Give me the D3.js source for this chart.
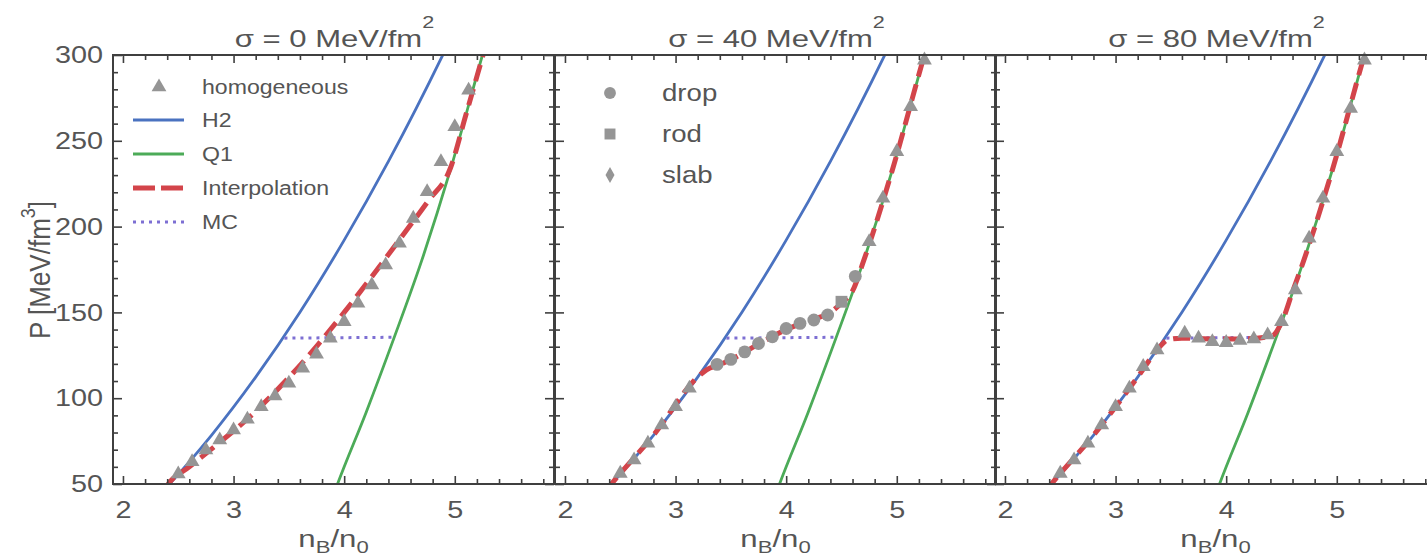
<!DOCTYPE html>
<html>
<head>
<meta charset="utf-8">
<script src="https://cdn.jsdelivr.net/npm/d3@7"></script>
<style>
  body { margin: 0; background: #fff; }
  text { font-family: "Liberation Sans", Arial, sans-serif; fill: #555; }
</style>
</head>
<body>
<svg id="chart" width="1427" height="555"></svg>
<script>
// ---- data ----
const sigmaValues = [0, 40, 80];
const xTickValues = [2, 3, 4, 5];
const yTickValues = [50, 100, 150, 200, 250, 300];

// hadronic EOS (H2), same in every panel
const h2X = [2.35, 2.42, 2.8, 3.2, 3.6, 4.0, 4.4, 4.89, 4.95];
const h2P = [45.2, 50, 78.4, 112.3, 150.1, 192.1, 238, 299.8, 307.8];

// quark EOS (Q1)
const q1X = [3.9, 3.94, 4.2, 4.45, 4.7, 4.96, 5.25, 5.32];
const q1P = [43, 50, 92, 135, 180, 233, 300, 316];

// Maxwell construction
const mcX = [3.46, 4.45];
const mcP = [135, 135.5];

// interpolation curves, one per sigma
const interpX0 = [2.37, 2.41, 2.6, 2.85, 3.11, 3.47, 3.76, 4.0, 4.24, 4.53, 4.76, 4.96, 5.1, 5.26, 5.3];
const interpP0 = [46, 50, 60, 73, 87, 110, 131, 150, 170, 195, 215, 234, 265, 301, 310];
const interpX40 = [2.37, 2.42, 2.8, 3.2, 3.28, 3.4, 3.5, 3.75, 4.0, 4.25, 4.4, 4.5, 4.6, 4.7, 4.96, 5.25, 5.3];
const interpP40 = [46, 50, 78.4, 112.3, 116.5, 119.5, 122.5, 131.5, 140, 146, 150, 155.5, 162.5, 180, 233, 300, 311];
const interpX80 = [2.37, 2.42, 2.8, 3.2, 3.4, 3.47, 3.6, 3.9, 4.2, 4.42, 4.5, 4.6, 4.7, 4.96, 5.25, 5.3];
const interpP80 = [46, 50, 78.4, 112.3, 130, 134, 135, 134.5, 134.6, 136.5, 144, 162, 180, 233, 300, 311];

// homogeneous phase points (triangles)
const homX0 = [2.5, 2.625, 2.75, 2.875, 3.0, 3.125, 3.25, 3.375, 3.5, 3.625, 3.75, 3.875, 4.0, 4.125, 4.25, 4.375, 4.5, 4.625, 4.75, 4.875, 5.0, 5.125];
const homP0 = [55.8, 63.0, 69.8, 75.6, 81.5, 87.7, 95.0, 101.3, 108.7, 117.4, 125.6, 134.9, 144.6, 155.3, 166.0, 177.6, 190.3, 204.8, 220.3, 237.8, 258.2, 279.5];
const homX40 = [2.5, 2.625, 2.75, 2.875, 3.0, 3.125, 4.75, 4.875, 5.0, 5.125, 5.25];
const homP40 = [56.2, 64.0, 73.7, 84.4, 95.0, 105.8, 191.2, 216.5, 243.7, 269.9, 297];
const homX80 = [2.5, 2.625, 2.75, 2.875, 3.0, 3.125, 3.25, 3.375, 3.625, 3.75, 3.875, 4.0, 4.125, 4.25, 4.375, 4.5, 4.625, 4.75, 4.875, 5.0, 5.125, 5.25];
const homP80 = [56.2, 64.0, 73.7, 84.4, 95.0, 105.8, 118.4, 128.1, 137.8, 134.9, 132.9, 132.4, 133.6, 134.5, 136.8, 144.6, 163.1, 193.2, 216.5, 243.7, 268.9, 297];

// pasta structures, sigma = 40
const dropX40 = [3.375, 3.5, 3.625, 3.75, 3.875, 4.0, 4.125, 4.25, 4.375, 4.625];
const dropP40 = [119.7, 122.6, 127.0, 131.9, 135.8, 140.6, 143.6, 145.6, 148.5, 171];
const rodX40 = [4.5];
const rodP40 = [156.2];

const legend1Labels = ["homogeneous", "H2", "Q1", "Interpolation", "MC"];
const legend2Labels = ["drop", "rod", "slab"];

// ---- layout ----
const panelLeft = [113, 555, 995];
const panelW = 441, plotTop = 55, plotBottom = 484;
const xDomain = [1.91, 5.897];
const SX = 1.2; // the figure's lettering is wide, stretch it a bit

const colH2 = "#4a72c0", colQ1 = "#4cab58", colInterp = "#d3444a", colMC = "#7d6fd3";
const colMarker = "#959595", colFrame = "#3f3f3f";

const svg = d3.select("#chart");

const interpX = [interpX0, interpX40, interpX80];
const interpP = [interpP0, interpP40, interpP80];
const homX = [homX0, homX40, homX80];
const homP = [homP0, homP40, homP80];

const zip = (xs, ys) => xs.map((v, i) => [v, ys[i]]);

function diamondPath(w, h) {
  return `M0,${-h / 2}L${w / 2},0L0,${h / 2}L${-w / 2},0Z`;
}

// text placed at (x,y) and stretched horizontally by sx
function wideText(parent, x, y, sx) {
  return parent.append("g").attr("transform", `translate(${x},${y}) scale(${sx},1)`).append("text");
}

sigmaValues.forEach((sigma, i) => {
  const x = d3.scaleLinear().domain(xDomain).range([0, panelW]);
  const y = d3.scaleLinear().domain([50, 300]).range([plotBottom, plotTop]);
  const g = svg.append("g").attr("transform", `translate(${panelLeft[i]},0)`);

  const clipId = "clip" + i;
  svg.append("clipPath").attr("id", clipId)
    .append("rect").attr("x", 0).attr("y", plotTop).attr("width", panelW).attr("height", plotBottom - plotTop);

  const line = d3.line().x(d => x(d[0])).y(d => y(d[1])).curve(d3.curveMonotoneX);
  const curves = g.append("g").attr("clip-path", `url(#${clipId})`);

  curves.append("path").datum(zip(h2X, h2P))
    .attr("d", line).attr("fill", "none").attr("stroke", colH2).attr("stroke-width", 2.8);
  curves.append("path").datum(zip(q1X, q1P))
    .attr("d", line).attr("fill", "none").attr("stroke", colQ1).attr("stroke-width", 2.8);
  curves.append("path").datum(zip(mcX, mcP))
    .attr("d", line).attr("fill", "none").attr("stroke", colMC).attr("stroke-width", 3)
    .attr("stroke-dasharray", "3,5");
  curves.append("path").datum(zip(interpX[i], interpP[i]))
    .attr("d", line).attr("fill", "none").attr("stroke", colInterp).attr("stroke-width", 5)
    .attr("stroke-dasharray", "17,8");

  // markers
  const tri = d3.symbol().type(d3.symbolTriangle).size(95);
  g.selectAll(".hom").data(zip(homX[i], homP[i])).enter().append("path")
    .attr("d", tri).attr("fill", colMarker)
    .attr("transform", d => `translate(${x(d[0])},${y(d[1])})`);

  if (i === 1) {
    const circ = d3.symbol().type(d3.symbolCircle).size(130);
    g.selectAll(".drop").data(zip(dropX40, dropP40)).enter().append("path")
      .attr("d", circ).attr("fill", colMarker)
      .attr("transform", d => `translate(${x(d[0])},${y(d[1])})`);
    const sq = d3.symbol().type(d3.symbolSquare).size(140);
    g.selectAll(".rod").data(zip(rodX40, rodP40)).enter().append("path")
      .attr("d", sq).attr("fill", colMarker)
      .attr("transform", d => `translate(${x(d[0])},${y(d[1])})`);
  }

  // axes (frame ticks point inward)
  const minorX = d3.range(2, 5.9, 0.2).filter(v => Math.abs(v - Math.round(v)) > 1e-6);
  const minorY = d3.range(60, 300, 10).filter(v => v % 50 !== 0);

  g.append("g").attr("transform", `translate(0,${plotBottom})`)
    .call(d3.axisBottom(x).tickValues(xTickValues).tickSize(-8).tickPadding(17).tickFormat(d3.format("d")));
  g.append("g").attr("transform", `translate(0,${plotBottom})`)
    .call(d3.axisBottom(x).tickValues(minorX).tickSize(-5).tickFormat(""));
  g.append("g").attr("transform", `translate(0,${plotTop})`)
    .call(d3.axisTop(x).tickValues(xTickValues).tickSize(-8).tickFormat(""));
  g.append("g").attr("transform", `translate(0,${plotTop})`)
    .call(d3.axisTop(x).tickValues(minorX).tickSize(-5).tickFormat(""));

  g.append("g")
    .call(d3.axisLeft(y).tickValues(yTickValues).tickSize(-9).tickPadding(10)
      .tickFormat(i === 0 ? d3.format("d") : ""));
  g.append("g").call(d3.axisLeft(y).tickValues(minorY).tickSize(-5).tickFormat(""));
  g.append("g").attr("transform", `translate(${panelW},0)`)
    .call(d3.axisRight(y).tickValues(yTickValues).tickSize(-9).tickFormat(""));
  g.append("g").attr("transform", `translate(${panelW},0)`)
    .call(d3.axisRight(y).tickValues(minorY).tickSize(-5).tickFormat(""));

  g.selectAll(".domain").remove();
  g.selectAll(".tick line").attr("stroke", colFrame).attr("stroke-width", 1.6);
  g.selectAll(".tick text")
    .attr("font-size", 24).attr("fill", "#555")
    .attr("font-family", "'Liberation Sans', Arial, sans-serif")
    .each(function () {
      const t = d3.select(this);
      const tx = +t.attr("x") || 0;
      t.attr("x", tx / SX).attr("transform", `scale(${SX},1)`);
    });

  g.append("rect").attr("x", 0).attr("y", plotTop).attr("width", panelW).attr("height", plotBottom - plotTop)
    .attr("fill", "none").attr("stroke", colFrame).attr("stroke-width", 2);

  // title
  const title = wideText(g, panelW / 2 + 1, 47, 1.35).attr("text-anchor", "middle").attr("font-size", 23);
  title.append("tspan").text(`σ = ${sigma} MeV/fm`);
  title.append("tspan").attr("dy", -19).attr("font-size", 16).text("2");

  // x label
  const xl = wideText(g, panelW / 2, 547, 1.3).attr("text-anchor", "middle").attr("font-size", 24);
  xl.append("tspan").text("n");
  xl.append("tspan").attr("dy", 6).attr("font-size", 17).text("B");
  xl.append("tspan").attr("dy", -6).text("/n");
  xl.append("tspan").attr("dy", 6).attr("font-size", 17).text("0");
});

// y label
const yl = svg.append("text").attr("transform", "translate(50,270) rotate(-90) scale(1,1.12)")
  .attr("text-anchor", "middle").attr("font-size", 26);
yl.append("tspan").text("P [MeV/fm");
yl.append("tspan").attr("dy", -13).attr("font-size", 18).text("3");
yl.append("tspan").attr("dy", 13).text("]");

// legend, first panel
const leg1 = svg.append("g");
const leg1Y = [87, 120, 154, 188, 222];
leg1.append("path").attr("d", d3.symbol().type(d3.symbolTriangle).size(95))
  .attr("fill", colMarker).attr("transform", `translate(159,${leg1Y[0]})`);
const legStyles = [
  null,
  { c: colH2, w: 2.8, dash: null },
  { c: colQ1, w: 2.8, dash: null },
  { c: colInterp, w: 5, dash: "22,6" },
  { c: colMC, w: 3, dash: "3,5" }
];
legStyles.forEach((s, k) => {
  if (!s) return;
  leg1.append("line").attr("x1", 133).attr("x2", 184).attr("y1", leg1Y[k]).attr("y2", leg1Y[k])
    .attr("stroke", s.c).attr("stroke-width", s.w).attr("stroke-dasharray", s.dash);
});
legend1Labels.forEach((lab, k) => {
  wideText(leg1, 202, leg1Y[k], 1.1).attr("dy", "0.35em")
    .attr("font-size", 21).attr("fill", "#505050").text(lab);
});

// legend, second panel
const leg2 = svg.append("g");
const leg2Y = [93, 134, 175];
leg2.append("path").attr("d", d3.symbol().type(d3.symbolCircle).size(110))
  .attr("fill", colMarker).attr("transform", `translate(610,${leg2Y[0]})`);
leg2.append("path").attr("d", d3.symbol().type(d3.symbolSquare).size(120))
  .attr("fill", colMarker).attr("transform", `translate(610,${leg2Y[1]})`);
leg2.append("path").attr("d", diamondPath(9, 16))
  .attr("fill", colMarker).attr("transform", `translate(610,${leg2Y[2]})`);
legend2Labels.forEach((lab, k) => {
  wideText(leg2, 662, leg2Y[k], 1.15).attr("dy", "0.35em")
    .attr("font-size", 24).attr("fill", "#505050").text(lab);
});
</script>
</body>
</html>
